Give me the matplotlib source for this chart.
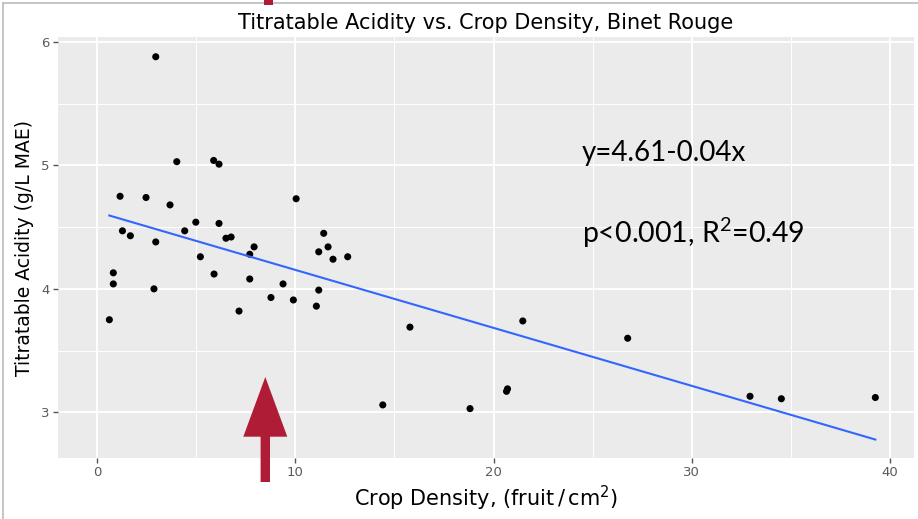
import numpy as np
import matplotlib
matplotlib.use("Agg")
import matplotlib.pyplot as plt
from matplotlib.patches import Polygon, Rectangle
from matplotlib.lines import Line2D

plt.rcParams["font.family"] = ["DejaVu Sans"]
plt.rcParams["mathtext.fontset"] = "dejavusans"
plt.rcParams["mathtext.rm"] = "Lato"

# Crop density (fruit/cm^2) and titratable acidity (g/L MAE), Binet Rouge
crop_density = [
    0.62, 0.82, 0.82, 1.16, 1.28, 1.68, 2.47, 2.87, 2.96, 2.96,
    3.68, 4.02, 4.42, 4.98, 5.21, 5.88, 5.90, 6.15, 6.15, 6.50,
    6.76, 7.16, 7.70, 7.70, 7.92, 8.77, 9.38, 9.90, 10.04, 11.06,
    11.18, 11.18, 11.43, 11.65, 11.90, 12.64, 14.41, 15.78, 18.81, 20.65,
    20.70, 21.47, 26.76, 32.93, 34.51, 39.25,
]
titratable_acidity = [
    3.75, 4.13, 4.04, 4.75, 4.47, 4.43, 4.74, 4.00, 4.38, 5.88,
    4.68, 5.03, 4.47, 4.54, 4.26, 5.04, 4.12, 5.01, 4.53, 4.41,
    4.42, 3.82, 4.28, 4.08, 4.34, 3.93, 4.04, 3.91, 4.73, 3.86,
    4.30, 3.99, 4.45, 4.34, 4.24, 4.26, 3.06, 3.69, 3.03, 3.17,
    3.19, 3.74, 3.60, 3.13, 3.11, 3.12,
]

x_ticks = [0, 10, 20, 30, 40]
y_ticks = [3, 4, 5, 6]

title = "Titratable Acidity vs. Crop Density, Binet Rouge"
x_label = r"Crop Density, $(\mathrm{fruit}\,/\,\mathrm{cm}^{2})$"
y_label = "Titratable Acidity (g/L MAE)"
eq_text = "y=4.61-0.04x"
stat_text = r"p<0.001, R$^{\mathrm{2}}$=0.49"

W, H = 918, 519
fig = plt.figure(figsize=(W / 100, H / 100), dpi=100)
fig.patch.set_facecolor("white")

def fx(px):
    return px / W

def fy(py):
    return 1 - py / H

ax = fig.add_axes([fx(58), fy(458), fx(914) - fx(58), fy(37) - fy(458)])
ax.set_facecolor("#EBEBEB")
ax.set_xlim(-1.97, 41.2)
ax.set_ylim(2.63, 6.04)

ax.set_xticks(x_ticks)
ax.set_yticks(y_ticks)
ax.set_xticks([5, 15, 25, 35], minor=True)
ax.set_yticks([3.5, 4.5, 5.5], minor=True)
ax.grid(which="major", color="white", linewidth=1.3)
ax.grid(which="minor", color="white", linewidth=0.7)
ax.set_axisbelow(True)
for s in ax.spines.values():
    s.set_visible(False)
ax.tick_params(which="major", length=3.5, width=1.0, color="#555555",
               labelcolor="#5A5A5A", labelsize=9.5, pad=2.5)
ax.tick_params(which="minor", length=0)

ax.scatter(crop_density, titratable_acidity, s=26, color="black",
           edgecolors="none", zorder=3)

# least-squares regression line across the observed range
slope, intercept = np.polyfit(crop_density, titratable_acidity, 1)
xs = np.array([min(crop_density), max(crop_density)])
ax.plot(xs, intercept + slope * xs, color="#3366FF", linewidth=1.5, zorder=4)

ax.text(24.44, 5.10, eq_text, fontsize=20, family=["Lato", "DejaVu Sans"],
        ha="left", va="center", color="black", zorder=5)
ax.text(24.44, 4.46, stat_text, fontsize=20.5, family=["Lato", "DejaVu Sans"],
        math_fontfamily="custom", ha="left", va="center", color="black",
        zorder=5)

ax.set_title(title, fontsize=15, pad=6)
ax.set_xlabel(x_label, fontsize=15, labelpad=3)
ax.set_ylabel(y_label, fontsize=13.5, labelpad=5)

# slide frame lines
fig.add_artist(Line2D([fx(2.5), fx(2.5)], [0, fy(2.5)], transform=fig.transFigure,
                      color="#BBBBBB", linewidth=1.2))
fig.add_artist(Line2D([fx(2.5), 1], [fy(2.5), fy(2.5)], transform=fig.transFigure,
                      color="#BBBBBB", linewidth=1.2))

# red pointer arrow
red = "#AE1C36"
tip_x, tip_y = 265.3, 377
head_base_y = 436.7
half_head = 22
half_shaft = 4.7
tail_y = 482
arrow_px = [
    (tip_x, tip_y),
    (tip_x + half_head, head_base_y),
    (tip_x + half_shaft, head_base_y),
    (tip_x + half_shaft, tail_y),
    (tip_x - half_shaft, tail_y),
    (tip_x - half_shaft, head_base_y),
    (tip_x - half_head, head_base_y),
]
fig.add_artist(Polygon([(fx(x), fy(y)) for x, y in arrow_px], closed=True,
                       transform=fig.transFigure, facecolor=red,
                       edgecolor="none", zorder=10))
fig.add_artist(Rectangle((fx(264.3), fy(5)), fx(9), fy(0) - fy(5),
                         transform=fig.transFigure, facecolor=red,
                         edgecolor="none", zorder=10))

fig.savefig("out.png", dpi=100)
